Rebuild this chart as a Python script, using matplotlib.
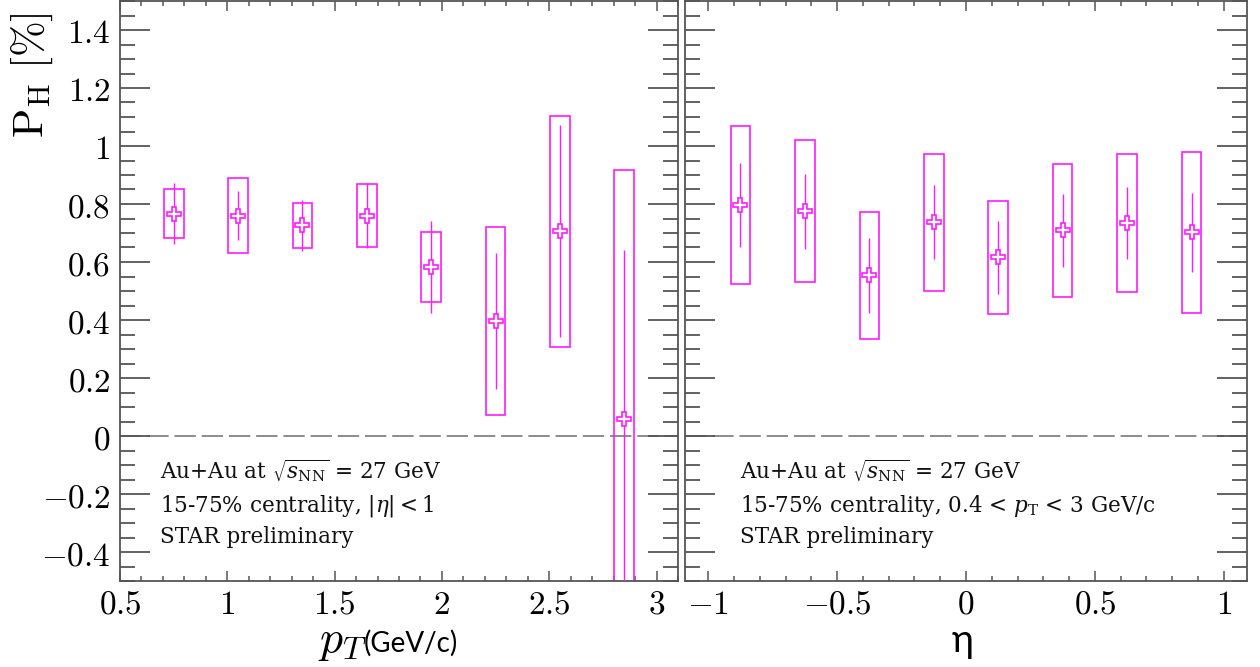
import matplotlib
matplotlib.use("Agg")
import matplotlib.pyplot as plt
from matplotlib.patches import Rectangle
from matplotlib.ticker import MultipleLocator, FixedLocator, FuncFormatter

# ---------------- data ----------------
pt_centers = [0.75, 1.05, 1.35, 1.65, 1.95, 2.25, 2.55, 2.85]
pt_ph = [0.767, 0.760, 0.727, 0.760, 0.583, 0.397, 0.706, 0.060]
pt_stat = [0.105, 0.084, 0.088, 0.112, 0.160, 0.235, 0.365, 0.583]
pt_sys = [0.085, 0.130, 0.078, 0.108, 0.122, 0.325, 0.398, 0.856]

eta_centers = [-0.875, -0.625, -0.375, -0.125, 0.125, 0.375, 0.625, 0.875]
eta_ph = [0.797, 0.775, 0.554, 0.737, 0.616, 0.709, 0.734, 0.702]
eta_stat = [0.144, 0.129, 0.129, 0.127, 0.127, 0.125, 0.124, 0.135]
eta_sys = [0.273, 0.244, 0.218, 0.236, 0.195, 0.230, 0.239, 0.277]

y_ticks = [-0.4, -0.2, 0, 0.2, 0.4, 0.6, 0.8, 1, 1.2, 1.4]
pt_ticks = [0.5, 1, 1.5, 2, 2.5, 3]
eta_ticks = [-1, -0.5, 0, 0.5, 1]

left_text = [r"Au+Au at $\sqrt{s_{\rm NN}}$ = 27 GeV",
             r"15-75% centrality, $|\eta|<1$",
             "STAR preliminary"]
right_text = [r"Au+Au at $\sqrt{s_{\rm NN}}$ = 27 GeV",
              r"15-75% centrality, 0.4 < $p_{\rm T}$ < 3 GeV/c",
              "STAR preliminary"]

# ---------------- style ----------------
plt.rcParams['mathtext.fontset'] = 'cm'
MAG = '#ff1aff'
AXC = '#555555'

W, H = 1260, 667
fig = plt.figure(figsize=(W / 100, H / 100), dpi=100)

ax1 = fig.add_axes([120 / W, (H - 581) / H, 558 / W, 580 / H])
ax2 = fig.add_axes([685 / W, (H - 581) / H, 562 / W, 580 / H])

fmt = FuncFormatter(lambda v, p: "$%g$" % round(v, 3))


def panel(ax, x, y, stat, sys, hw, xlim, xticks, texts, tx):
    ax.set_xlim(*xlim)
    ax.set_ylim(-0.5, 1.5)
    ax.axhline(0, color='#8c8c8c', lw=1.4, ls=(0, (11, 3)), zorder=1)
    for xi, yi, si in zip(x, y, sys):
        ax.add_patch(Rectangle((xi - hw, yi - si), 2 * hw, 2 * si, fill=False,
                               ec=MAG, lw=1.2, zorder=2))
    ax.errorbar(x, y, yerr=stat, fmt='none', ecolor=MAG, elinewidth=1.0,
                capsize=0, zorder=3)
    ax.plot(x, y, ls='none', marker='P', ms=10.5, mfc='white', mec=MAG,
            mew=1.2, zorder=4)

    ax.xaxis.set_major_locator(FixedLocator(xticks))
    ax.xaxis.set_minor_locator(MultipleLocator(0.1))
    ax.yaxis.set_major_locator(FixedLocator(y_ticks))
    ax.yaxis.set_minor_locator(MultipleLocator(0.05))
    ax.xaxis.set_major_formatter(fmt)
    ax.yaxis.set_major_formatter(fmt)

    ax.tick_params(axis='both', which='both', direction='in', top=True,
                   right=True, colors=AXC, labelcolor='black', labelsize=24)
    ax.tick_params(axis='y', which='major', length=21.5, width=1.3, pad=7)
    ax.tick_params(axis='y', which='minor', length=10.8, width=1.3)
    ax.tick_params(axis='x', which='major', length=7, width=1.1, pad=5)
    ax.tick_params(axis='x', which='minor', length=3.6, width=1.1)
    for s in ax.spines.values():
        s.set_color(AXC)
        s.set_linewidth(1.3)

    for t, yy in zip(texts, [0.176, 0.119, 0.066]):
        ax.text(tx, yy, t, transform=ax.transAxes, ha='left', va='baseline',
                fontsize=15.5, family='DejaVu Serif',
                math_fontfamily='dejavuserif', color='#111111')


panel(ax1, pt_centers, pt_ph, pt_stat, pt_sys, 0.046, (0.5, 3.1), pt_ticks,
      left_text, 0.072)
panel(ax2, eta_centers, eta_ph, eta_stat, eta_sys, 0.038, (-1.09, 1.09),
      eta_ticks, right_text, 0.098)
ax2.tick_params(axis='y', labelleft=False)

# axis titles
fig.text(32 / W, 1 - 75 / H, r"$\mathrm{P}_{\mathrm{H}}\ [\%]$", rotation=90,
         ha='center', va='center', fontsize=31)
fig.text(318 / W, 1 - 652 / H, r"$p_T$", ha='left', va='baseline', fontsize=33)
fig.text(364 / W, 1 - 652 / H, "(GeV/c)", ha='left', va='baseline',
         fontsize=20, family=['Lato', 'DejaVu Sans'])
fig.text(963 / W, 1 - 652 / H, "η", ha='center', va='baseline', fontsize=27,
         family=['Lato', 'DejaVu Sans'])

fig.savefig("out.png", dpi=100)
